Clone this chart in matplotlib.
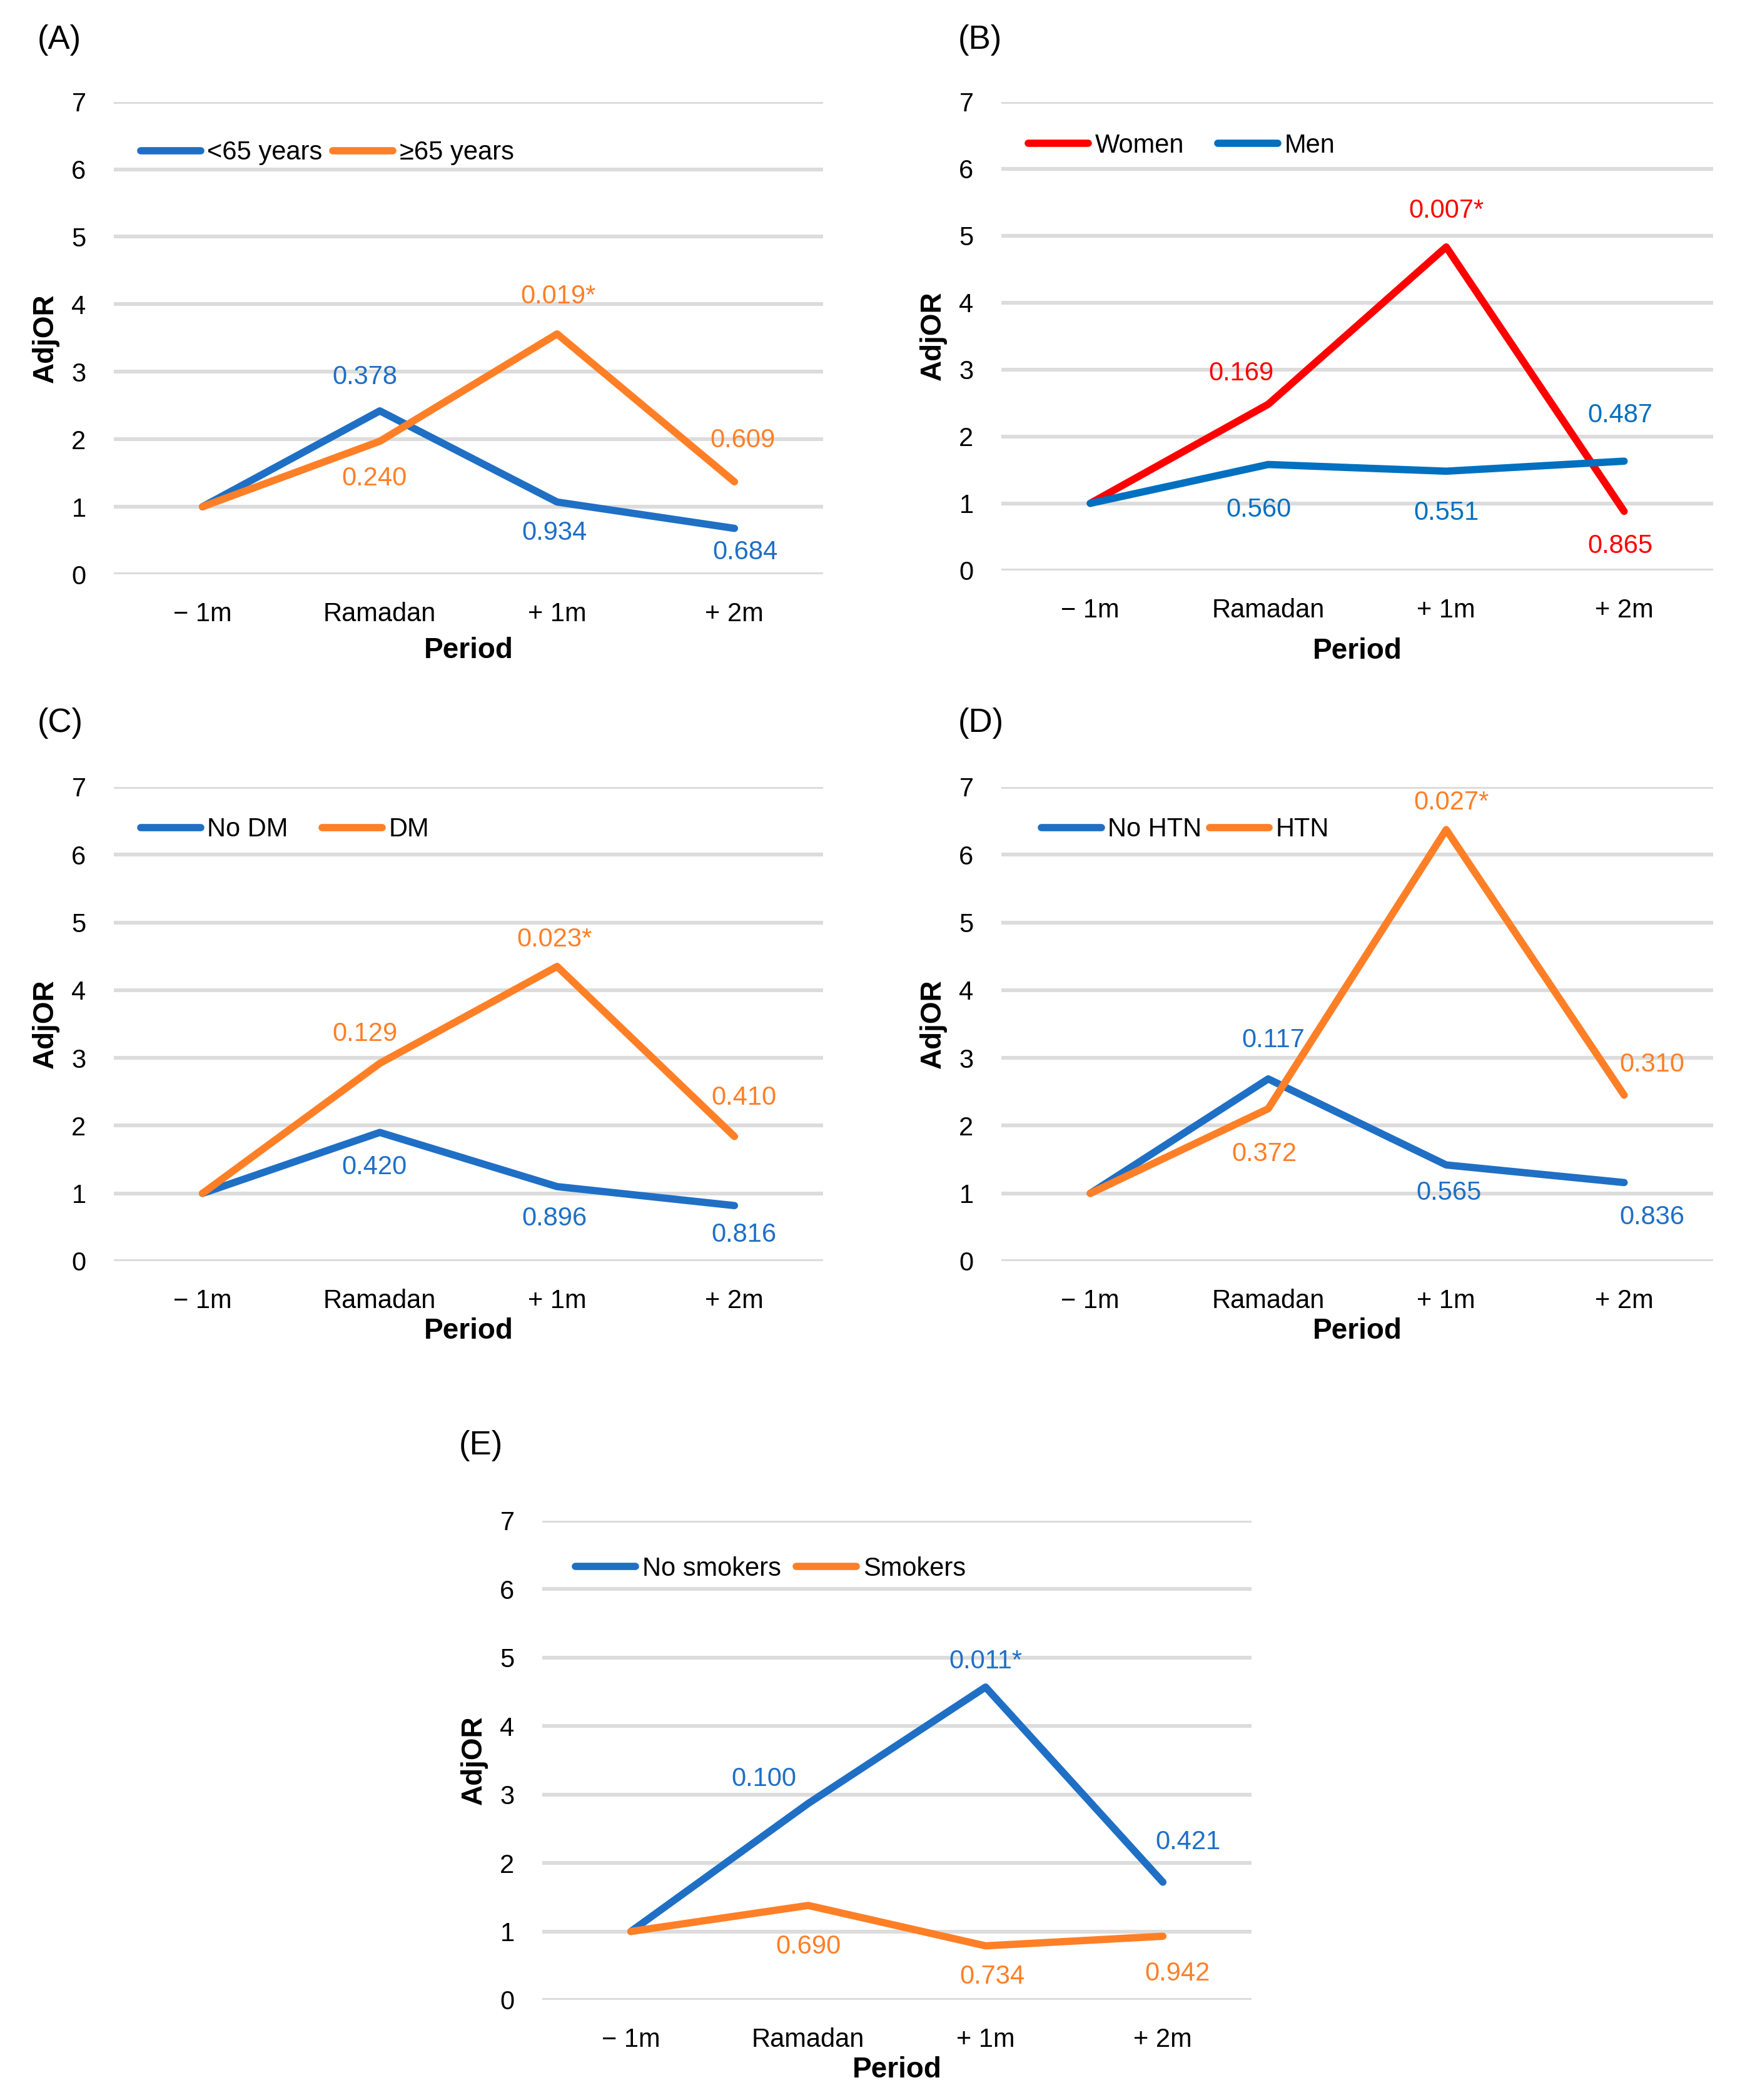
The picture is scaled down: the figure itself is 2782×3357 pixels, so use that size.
import matplotlib
matplotlib.use("Agg")
from matplotlib import pyplot as plt
import numpy as np

plt.rcParams["font.family"] = ["Liberation Sans", "DejaVu Sans"]

# categories
periods = ["\u2212 1m", "Ramadan", "+ 1m", "+ 2m"]

# (A) age
age_lt65 = [1.00, 2.42, 1.07, 0.68]
age_ge65 = [1.00, 1.97, 3.56, 1.37]
age_lt65_p = ["", "0.378", "0.934", "0.684"]
age_ge65_p = ["", "0.240", "0.019*", "0.609"]

# (B) sex
women = [1.00, 2.48, 4.83, 0.88]
men = [1.00, 1.58, 1.48, 1.63]
women_p = ["", "0.169", "0.007*", "0.865"]
men_p = ["", "0.560", "0.551", "0.487"]

# (C) diabetes
no_dm = [1.00, 1.90, 1.10, 0.82]
dm = [1.00, 2.92, 4.35, 1.84]
no_dm_p = ["", "0.420", "0.896", "0.816"]
dm_p = ["", "0.129", "0.023*", "0.410"]

# (D) hypertension
no_htn = [1.00, 2.69, 1.42, 1.16]
htn = [1.00, 2.25, 6.37, 2.45]
no_htn_p = ["", "0.117", "0.565", "0.836"]
htn_p = ["", "0.372", "0.027*", "0.310"]

# (E) smoking
no_smk = [1.00, 2.87, 4.57, 1.72]
smk = [1.00, 1.38, 0.79, 0.93]
no_smk_p = ["", "0.100", "0.011*", "0.421"]
smk_p = ["", "0.690", "0.734", "0.942"]

BLUE = "#1F6FC5"
BLUE_B = "#0070C0"
ORANGE = "#FF7F27"
RED = "#FF0000"
GRID = "#DCDCDC"

# label offsets (px in the reference, converted to points below)
PX = 0.77
off_lt65 = [None, (-11, 25), (-2, -23), (8, -18)]
off_ge65 = [None, (-4, -28), (1, 28), (6, 31)]
off_women = [None, (-20, 23), (0, 27), (-3, -26)]
off_men = [None, (-7, -34), (0, -31), (-3, 34)]
off_nodm = [None, (-4, -26), (-2, -24), (7, -22)]
off_dm = [None, (-11, 22), (-2, 20), (7, 29)]
off_nohtn = [None, (4, 29), (2, -21), (21, -26)]
off_htn = [None, (-3, -34), (4, 20), (21, 23)]
off_nosmk = [None, (-33, 18), (0, 19), (19, 30)]
off_smk = [None, (0, -31), (5, -23), (11, -28)]

W, H = 2782, 3357
fig = plt.figure(figsize=(W / 200, H / 200), dpi=200)

panels = [
    dict(tag="(A)", rect=[182, 162.6, 1316, 918], tagpos=(60, 64),
         series=[("<65 years", age_lt65, age_lt65_p, off_lt65, BLUE),
                 ("\u226565 years", age_ge65, age_ge65_p, off_ge65, ORANGE)],
         leg=(0.038, 0.892), colsp=0.4, xlab=0.133),
    dict(tag="(B)", rect=[1601, 162.6, 2739, 911.6], tagpos=(1532, 64),
         series=[("Women", women, women_p, off_women, RED),
                 ("Men", men, men_p, off_men, BLUE_B)],
         leg=(0.038, 0.906), colsp=1.3, xlab=0.143),
    dict(tag="(C)", rect=[182, 1258, 1316, 2016], tagpos=(60, 1156),
         series=[("No DM", no_dm, no_dm_p, off_nodm, BLUE),
                 ("DM", dm, dm_p, off_dm, ORANGE)],
         leg=(0.038, 0.91), colsp=1.3, xlab=0.119),
    dict(tag="(D)", rect=[1601, 1258, 2739, 2016], tagpos=(1532, 1156),
         series=[("No HTN", no_htn, no_htn_p, off_nohtn, BLUE),
                 ("HTN", htn, htn_p, off_htn, ORANGE)],
         leg=(0.056, 0.91), colsp=0.3, xlab=0.119),
    dict(tag="(E)", rect=[867, 2431, 2001, 3197], tagpos=(734, 2311),
         series=[("No smokers", no_smk, no_smk_p, off_nosmk, BLUE),
                 ("Smokers", smk, smk_p, off_smk, ORANGE)],
         leg=(0.047, 0.90), colsp=0.6, xlab=0.117),
]

x = np.arange(len(periods))

for p in panels:
    x0, y0, x1, y1 = p["rect"]
    ax = fig.add_axes([x0 / W, 1 - y1 / H, (x1 - x0) / W, (y1 - y0) / H])
    for name, vals, labs, offs, col in p["series"]:
        ax.plot(x, vals, color=col, lw=4.2, label=name, zorder=3,
                solid_capstyle="round", solid_joinstyle="round")
        for i, lab in enumerate(labs):
            if not lab:
                continue
            dx, dy = offs[i]
            ax.annotate(lab, (x[i], vals[i]), xytext=(dx * PX, dy * PX),
                        textcoords="offset points", ha="center", va="center",
                        color=col, fontsize=15, zorder=4)
    ax.set_xlim(-0.5, 3.5)
    ax.set_ylim(0, 7)
    ax.set_yticks(range(8))
    ax.set_xticks(x)
    ax.set_xticklabels(periods)
    ax.tick_params(length=0, labelsize=15, pad=16)
    ax.grid(axis="y", color=GRID, lw=2.2, zorder=0)
    ax.set_axisbelow(True)
    for s in ax.spines.values():
        s.set_visible(False)
    ax.set_ylabel("AdjOR", fontsize=16.5, fontweight="bold")
    ax.yaxis.set_label_coords(-0.077, 0.5)
    ax.set_xlabel("Period", fontsize=16.5, fontweight="bold")
    ax.xaxis.set_label_coords(0.5, -p["xlab"])
    leg = ax.legend(loc="center left", bbox_to_anchor=p["leg"], ncol=2,
                    frameon=False, fontsize=15, handlelength=2.3,
                    handletextpad=0.25, columnspacing=p["colsp"],
                    borderpad=0, borderaxespad=0)
    for h in leg.get_lines():
        h.set_linewidth(4.2)
        h.set_solid_capstyle("round")
    tx, ty = p["tagpos"]
    fig.text(tx / W, 1 - ty / H, p["tag"], fontsize=19, ha="left", va="center")

fig.savefig("out.png", dpi=200, facecolor="white")
